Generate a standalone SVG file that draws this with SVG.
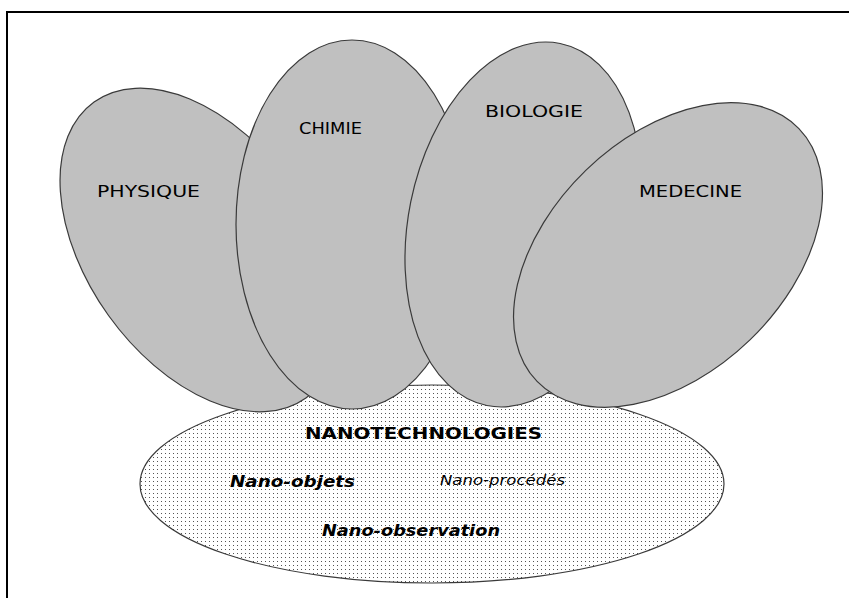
<svg xmlns="http://www.w3.org/2000/svg" width="849" height="598" viewBox="0 0 849 598">
<defs>
<pattern id="dots" x="0" y="0" width="4" height="4" patternUnits="userSpaceOnUse">
<rect x="1" y="1" width="1" height="1" fill="#555"/>
</pattern>
<style>
.lobe{fill:#c0c0c0;stroke:#3a3a3a;stroke-width:1.2}
.lbl{font-family:"DejaVu Sans","Liberation Sans",sans-serif;font-size:15px;fill:#000}
.it{font-style:italic}
.b{font-weight:bold}
</style>
</defs>
<rect x="0" y="0" width="849" height="598" fill="#fff"/>
<rect x="7" y="12" width="860" height="600" fill="none" stroke="#000" stroke-width="2"/>
<g id="nanotechnologies">
<ellipse cx="432" cy="484" rx="292" ry="99" fill="#fff" stroke="none"/>
<ellipse cx="432" cy="484" rx="292" ry="99" fill="url(#dots)" stroke="#3a3a3a" stroke-width="1.2"/>
</g>
<g id="physique">
<ellipse class="lobe" cx="200" cy="250" rx="182" ry="112.5" transform="rotate(54.4 200 250)"/>
<text class="lbl" x="97" y="197" textLength="103" lengthAdjust="spacingAndGlyphs">PHYSIQUE</text>
</g>
<g id="chimie">
<ellipse class="lobe" cx="352" cy="224.5" rx="116" ry="184.5"/>
<text class="lbl" x="299" y="134" textLength="63" lengthAdjust="spacingAndGlyphs">CHIMIE</text>
</g>
<g id="biologie">
<ellipse class="lobe" cx="523.5" cy="224.5" rx="115" ry="184.7" transform="rotate(11.45 523.5 224.5)"/>
<text class="lbl" x="485" y="117" textLength="98" lengthAdjust="spacingAndGlyphs">BIOLOGIE</text>
</g>
<g id="medecine">
<ellipse class="lobe" cx="668" cy="255" rx="182" ry="118" transform="rotate(-44 668 255)"/>
<text class="lbl" x="639" y="197" textLength="103" lengthAdjust="spacingAndGlyphs">MEDECINE</text>
</g>
<g id="labels">
<text class="lbl b" x="305" y="439" textLength="237" lengthAdjust="spacingAndGlyphs">NANOTECHNOLOGIES</text>
<text class="lbl b it" x="230" y="487" textLength="125" lengthAdjust="spacingAndGlyphs">Nano-objets</text>
<text class="lbl it" x="440" y="485" textLength="125" lengthAdjust="spacingAndGlyphs" style="font-size:14.5px">Nano-procédés</text>
<text class="lbl b it" x="322" y="536" textLength="178" lengthAdjust="spacingAndGlyphs">Nano-observation</text>
</g>
</svg>
